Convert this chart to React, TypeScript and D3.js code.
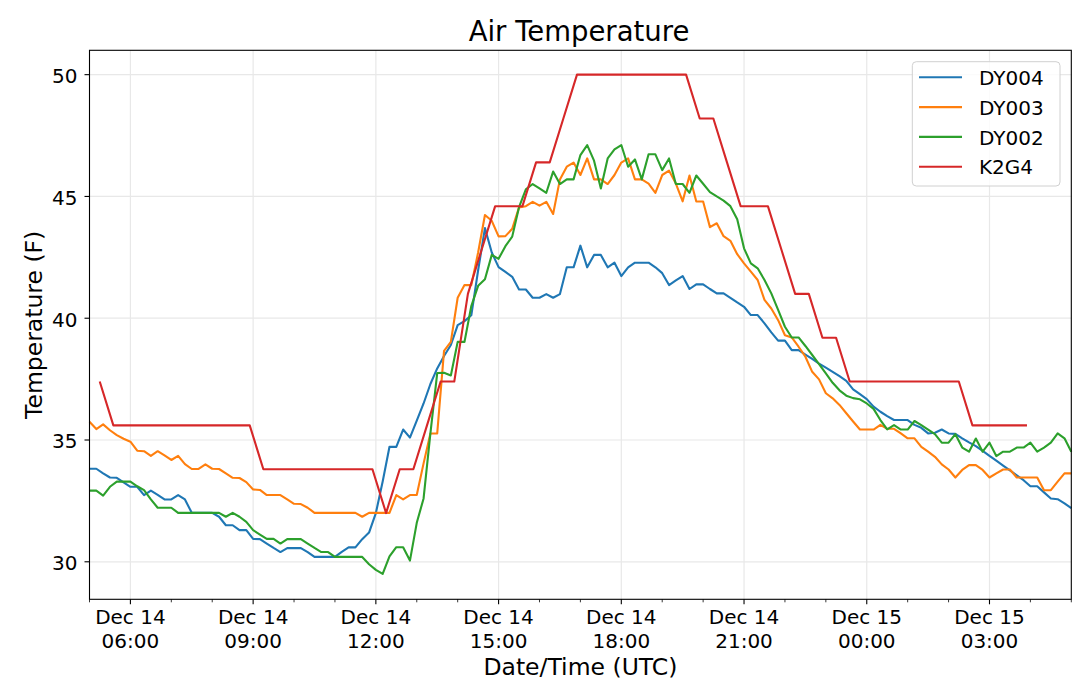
import * as d3 from "d3"
import { useEffect, useRef } from "react"

// DY stations report every 10 minutes from Dec 14 05:00 UTC
const DY_START = Date.UTC(2019, 11, 14, 5, 0)
const DY_STEP_MIN = 10

const dy004 = [
  33.82, 33.82, 33.63, 33.46, 33.45, 33.26, 33.08, 33.08, 32.74, 32.92,
  32.75, 32.56, 32.56, 32.74, 32.56, 32.01, 32.01, 32.01, 32.01, 31.85,
  31.5, 31.5, 31.3, 31.3, 30.94, 30.93, 30.75, 30.57, 30.4, 30.56,
  30.56, 30.56, 30.4, 30.2, 30.2, 30.2, 30.2, 30.41, 30.59, 30.59,
  30.93, 31.2, 32.0, 33.3, 34.72, 34.72, 35.43, 35.1, 35.8, 36.5,
  37.3, 37.94, 38.45, 38.9, 39.72, 39.88, 40.12, 41.97, 43.7, 42.7,
  42.1, 41.9, 41.7, 41.18, 41.18, 40.84, 40.84, 40.99, 40.84, 40.99,
  42.09, 42.09, 42.98, 42.09, 42.6, 42.6, 42.09, 42.28, 41.73, 42.09,
  42.28, 42.28, 42.28, 42.09, 41.85, 41.36, 41.55, 41.73, 41.2, 41.39,
  41.39, 41.2, 41.02, 41.02, 40.84, 40.65, 40.47, 40.13, 40.13, 39.79,
  39.42, 39.08, 39.08, 38.69, 38.69, 38.51, 38.33, 38.14, 37.97, 37.8,
  37.62, 37.43, 37.08, 36.88, 36.68, 36.37, 36.16, 35.98, 35.82, 35.82,
  35.82, 35.62, 35.5, 35.27, 35.3, 35.43, 35.27, 35.25, 35.07, 34.9,
  34.75, 34.55, 34.35, 34.15, 33.95, 33.75, 33.55, 33.35, 33.1, 33.1,
  32.85, 32.6, 32.57, 32.4, 32.2,
]

const dy003 = [
  35.75, 35.45, 35.64, 35.4, 35.2, 35.05, 34.93, 34.56, 34.54, 34.35,
  34.54, 34.37, 34.18, 34.35, 34.01, 33.81, 33.81, 34.0, 33.82, 33.81,
  33.63, 33.45, 33.44, 33.27, 32.97, 32.95, 32.74, 32.74, 32.74, 32.56,
  32.38, 32.37, 32.22, 32.01, 32.01, 32.01, 32.01, 32.01, 32.01, 32.01,
  31.85, 32.01, 32.01, 32.01, 32.01, 32.74, 32.56, 32.74, 32.74, 34.04,
  35.27, 35.27, 38.66, 39.03, 40.84, 41.36, 41.36, 42.7, 44.24, 44.0,
  43.36, 43.37, 43.67, 44.55, 44.6, 44.78, 44.62, 44.78, 44.28, 45.7,
  46.22, 46.39, 45.88, 46.56, 45.7, 45.7, 45.51, 45.88, 46.39, 46.56,
  45.7, 45.7, 45.53, 45.15, 45.88, 46.06, 45.53, 44.8, 45.86, 44.79,
  44.79, 43.74, 43.9, 43.37, 43.18, 42.63, 42.25, 41.91, 41.57, 40.75,
  40.4, 39.92, 39.3, 39.21, 38.83, 38.42, 37.8, 37.49, 36.92, 36.71,
  36.44, 36.1, 35.76, 35.43, 35.43, 35.43, 35.62, 35.46, 35.46, 35.27,
  35.07, 35.07, 34.72, 34.52, 34.31, 34.0, 33.79, 33.46, 33.77, 33.97,
  33.97, 33.77, 33.46, 33.63, 33.79, 33.79, 33.46, 33.46, 33.46, 33.46,
  32.94, 32.94, 33.29, 33.63, 33.63,
]

const dy002 = [
  32.92, 32.92, 32.72, 33.08, 33.29, 33.29, 33.29, 33.1, 32.94, 32.56,
  32.22, 32.22, 32.22, 32.01, 32.01, 32.01, 32.01, 32.01, 32.01, 32.01,
  31.85, 32.01, 31.85, 31.64, 31.3, 31.12, 30.94, 30.94, 30.75, 30.93,
  30.93, 30.93, 30.75, 30.57, 30.4, 30.4, 30.2, 30.2, 30.2, 30.2,
  30.2, 29.9, 29.67, 29.5, 30.22, 30.6, 30.6, 30.05, 31.6, 32.6,
  35.27, 37.75, 37.76, 37.65, 39.03, 39.03, 40.5, 41.33, 41.6, 42.6,
  42.44, 42.96, 43.35, 44.56, 45.29, 45.51, 45.33, 45.15, 46.02, 45.51,
  45.7, 45.7, 46.7, 47.11, 46.47, 45.33, 46.56, 46.93, 47.11, 46.22,
  46.52, 45.7, 46.73, 46.73, 46.08, 46.56, 45.51, 45.51, 45.15, 45.86,
  45.52, 45.18, 45.0, 44.83, 44.6, 44.06, 42.87, 42.25, 42.05, 41.57,
  41.02, 40.34, 39.65, 39.21, 39.21, 38.86, 38.49, 38.12, 37.74, 37.35,
  37.04, 36.82, 36.72, 36.67, 36.5, 36.28, 35.82, 35.44, 35.61, 35.43,
  35.43, 35.78, 35.61, 35.43, 35.24, 34.89, 34.89, 35.24, 34.69, 34.52,
  35.06, 34.52, 34.89, 34.34, 34.52, 34.52, 34.69, 34.69, 34.89, 34.52,
  34.69, 34.89, 35.27, 35.07, 34.52,
]

// K2G4 reports every 20 minutes from Dec 14 05:15 UTC (whole degrees C in F)
const K2G4_START = Date.UTC(2019, 11, 14, 5, 15)
const K2G4_STEP_MIN = 20

const k2g4 = [
  37.4,
  35.6, 35.6, 35.6, 35.6, 35.6, 35.6, 35.6, 35.6, 35.6, 35.6, 35.6,
  33.8, 33.8, 33.8, 33.8, 33.8, 33.8, 33.8, 33.8, 33.8,
  32.0, 33.8, 33.8, 35.6, 37.4, 37.4, 41.0, 42.8, 44.6, 44.6, 44.6, 46.4,
  46.4, 48.2,
  50.0, 50.0, 50.0, 50.0, 50.0, 50.0, 50.0, 50.0, 50.0,
  48.2, 48.2, 46.4, 44.6, 44.6, 44.6, 42.8, 41.0, 41.0, 39.2, 39.2,
  37.4, 37.4, 37.4, 37.4, 37.4, 37.4, 37.4, 37.4, 37.4,
  35.6, 35.6, 35.6, 35.6, 35.6,
]

const seriesNames = ["DY004", "DY003", "DY002", "K2G4"]
const seriesColors = ["#1f77b4", "#ff7f0e", "#2ca02c", "#d62728"]

const xDomain = [
  new Date(Date.UTC(2019, 11, 14, 5, 0)),
  new Date(Date.UTC(2019, 11, 15, 5, 0)),
]
const yDomain = [28.46, 51.0]
const yTicks = [30, 35, 40, 45, 50]

type Pt = { t: Date; v: number }

const toPoints = (values: number[], start: number, stepMin: number): Pt[] =>
  values.map((v, i) => ({ t: new Date(start + i * stepMin * 60000), v }))

const App = () => {
  const svgRef = useRef<SVGSVGElement>(null)
  const width = 1080
  const height = 682

  useEffect(() => {
    if (!svgRef.current) return
    d3.select(svgRef.current).selectAll("*").remove()

    const MARGIN = { top: 50.3, right: 8.7, bottom: 82.7, left: 89.5 }
    const font = "DejaVu Sans, sans-serif"

    const svg = d3
      .select(svgRef.current)
      .attr("width", width)
      .attr("height", height)
      .append("g")

    const xScale = d3
      .scaleUtc()
      .domain(xDomain)
      .range([MARGIN.left, width - MARGIN.right])

    const yScale = d3
      .scaleLinear()
      .domain(yDomain)
      .range([height - MARGIN.bottom, MARGIN.top])

    const majorTimes = d3.utcHour.every(3)!.range(xDomain[0], xDomain[1])
    const minorTimes = d3.utcHour
      .range(xDomain[0], new Date(+xDomain[1] + 1))
      .filter((d) => d.getUTCHours() % 3 !== 0)

    // grid
    svg
      .selectAll(".vgrid")
      .data(majorTimes)
      .join("line")
      .attr("x1", (d) => xScale(d))
      .attr("x2", (d) => xScale(d))
      .attr("y1", yScale(yDomain[0]))
      .attr("y2", yScale(yDomain[1]))
      .attr("stroke", "#e8e8e8")
      .attr("stroke-width", 1.2)
    svg
      .selectAll(".hgrid")
      .data(yTicks)
      .join("line")
      .attr("x1", xScale(xDomain[0]))
      .attr("x2", xScale(xDomain[1]))
      .attr("y1", (d) => yScale(d))
      .attr("y2", (d) => yScale(d))
      .attr("stroke", "#e8e8e8")
      .attr("stroke-width", 1.2)

    // series
    const allSeries = [
      toPoints(dy004, DY_START, DY_STEP_MIN),
      toPoints(dy003, DY_START, DY_STEP_MIN),
      toPoints(dy002, DY_START, DY_STEP_MIN),
      toPoints(k2g4, K2G4_START, K2G4_STEP_MIN),
    ]
    const line = d3
      .line<Pt>()
      .x((d) => xScale(d.t))
      .y((d) => yScale(d.v))

    svg
      .selectAll(".series")
      .data(allSeries)
      .join("path")
      .attr("fill", "none")
      .attr("stroke", (_, i) => seriesColors[i])
      .attr("stroke-width", 2.1)
      .attr("stroke-linejoin", "round")
      .attr("d", (d) => line(d))

    // frame
    svg
      .append("rect")
      .attr("x", xScale(xDomain[0]))
      .attr("y", yScale(yDomain[1]))
      .attr("width", xScale(xDomain[1]) - xScale(xDomain[0]))
      .attr("height", yScale(yDomain[0]) - yScale(yDomain[1]))
      .attr("fill", "none")
      .attr("stroke", "#000")
      .attr("stroke-width", 1.1)

    // x axis ticks
    const yBottom = yScale(yDomain[0])
    svg
      .selectAll(".xmajor")
      .data(majorTimes)
      .join("line")
      .attr("x1", (d) => xScale(d))
      .attr("x2", (d) => xScale(d))
      .attr("y1", yBottom)
      .attr("y2", yBottom + 5)
      .attr("stroke", "#000")
      .attr("stroke-width", 1.1)
    svg
      .selectAll(".xminor")
      .data(minorTimes)
      .join("line")
      .attr("x1", (d) => xScale(d))
      .attr("x2", (d) => xScale(d))
      .attr("y1", yBottom)
      .attr("y2", yBottom + 3)
      .attr("stroke", "#000")
      .attr("stroke-width", 0.8)

    const dayFmt = d3.utcFormat("%b %d")
    const timeFmt = d3.utcFormat("%H:%M")
    const xLabels = svg
      .selectAll(".xlabel")
      .data(majorTimes)
      .join("text")
      .attr("text-anchor", "middle")
      .attr("font-family", font)
      .attr("font-size", "20px")
      .attr("fill", "#000")
    xLabels
      .append("tspan")
      .attr("x", (d) => xScale(d))
      .attr("y", 624)
      .text((d) => dayFmt(d))
    xLabels
      .append("tspan")
      .attr("x", (d) => xScale(d))
      .attr("y", 647.5)
      .text((d) => timeFmt(d))

    // y axis ticks
    const xLeft = xScale(xDomain[0])
    svg
      .selectAll(".ymajor")
      .data(yTicks)
      .join("line")
      .attr("x1", xLeft - 5)
      .attr("x2", xLeft)
      .attr("y1", (d) => yScale(d))
      .attr("y2", (d) => yScale(d))
      .attr("stroke", "#000")
      .attr("stroke-width", 1.1)
    svg
      .selectAll(".ylabel")
      .data(yTicks)
      .join("text")
      .attr("x", 77.5)
      .attr("y", (d) => yScale(d) + 8.4)
      .attr("text-anchor", "end")
      .attr("font-family", font)
      .attr("font-size", "20px")
      .attr("fill", "#000")
      .text((d) => d.toString())

    // titles
    svg
      .append("text")
      .attr("x", 579)
      .attr("y", 40.7)
      .attr("text-anchor", "middle")
      .attr("font-family", font)
      .attr("font-size", "27.5px")
      .text("Air Temperature")

    svg
      .append("text")
      .attr("x", (xScale(xDomain[0]) + xScale(xDomain[1])) / 2)
      .attr("y", 675)
      .attr("text-anchor", "middle")
      .attr("font-family", font)
      .attr("font-size", "23.5px")
      .text("Date/Time (UTC)")

    svg
      .append("text")
      .attr("transform", `translate(42, ${(yScale(yDomain[0]) + yScale(yDomain[1])) / 2}) rotate(-90)`)
      .attr("text-anchor", "middle")
      .attr("font-family", font)
      .attr("font-size", "23.5px")
      .text("Temperature (F)")

    // legend
    const legend = svg.append("g")
    legend
      .append("rect")
      .attr("x", 912.3)
      .attr("y", 61.7)
      .attr("width", 147.7)
      .attr("height", 124.3)
      .attr("rx", 4)
      .attr("fill", "#fff")
      .attr("fill-opacity", 0.8)
      .attr("stroke", "#d0d0d0")
      .attr("stroke-width", 1)

    const rows = legend
      .selectAll(".row")
      .data(seriesNames)
      .join("g")
      .attr("transform", (_, i) => `translate(0, ${77.3 + i * 29.8})`)
    rows
      .append("line")
      .attr("x1", 919)
      .attr("x2", 962)
      .attr("stroke", (_, i) => seriesColors[i])
      .attr("stroke-width", 2.1)
    rows
      .append("text")
      .attr("x", 979)
      .attr("y", 7.7)
      .attr("font-family", font)
      .attr("font-size", "20px")
      .attr("fill", "#000")
      .text((d) => d)
  }, [])

  return (
    <div style={{ position: "absolute", left: 0, top: 0 }}>
      <svg ref={svgRef} style={{ display: "block" }} />
    </div>
  )
}

export default App
